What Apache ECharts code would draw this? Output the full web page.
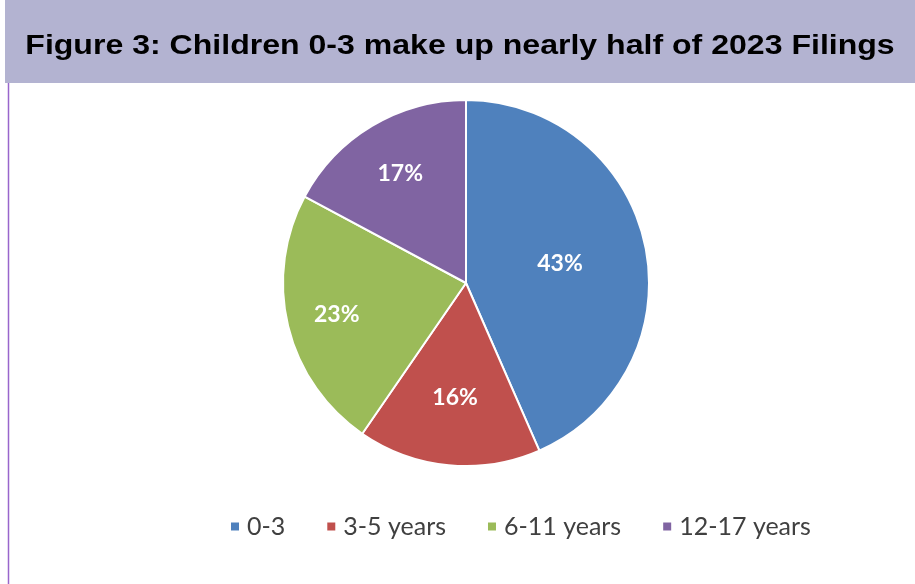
<!DOCTYPE html>
<html>
<head>
<meta charset="utf-8">
<script src="https://cdn.jsdelivr.net/npm/echarts@6/dist/echarts.min.js"></script>
<style>
  html, body { margin: 0; padding: 0; background: #fff; }
  #chart { width: 915px; height: 584px; }
</style>
</head>
<body>
<div id="chart"></div>
<script>
const titleText = 'Figure 3: Children 0-3 make up nearly half of 2023 Filings'
const categories = ['0-3', '3-5 years', '6-11 years', '12-17 years']
const shares = [43, 16, 23, 17]
const colors = ['#4f81bd', '#c0504d', '#9bbb59', '#8064a2']

// label distance from centre, Excel places them a bit unevenly
const labelDist = [93, 112, 130, 125]

const myChart = echarts.init(document.getElementById('chart'))

const R = 183
const total = shares.reduce((a, b) => a + b, 0)
let acc = 0
const pieData = categories.map((name, i) => {
  const mid = (acc + shares[i] / 2) / total * Math.PI * 2
  acc += shares[i]
  const extra = labelDist[i] - R / 2
  return {
    name: name,
    value: shares[i],
    itemStyle: { color: colors[i] },
    label: { offset: [Math.sin(mid) * extra, -Math.cos(mid) * extra] }
  }
})

const options = {
  animation: false,
  graphic: [
    {
      type: 'rect',
      shape: { x: 5, y: 0, width: 910, height: 83 },
      style: { fill: '#b3b3d1' }
    },
    {
      type: 'text',
      x: 460,
      y: 46,
      scaleX: 1.145,
      style: {
        text: titleText,
        fill: '#000',
        font: 'bold 28px "Liberation Sans", Arial',
        textAlign: 'center',
        textVerticalAlign: 'middle'
      }
    },
    {
      type: 'line',
      shape: { x1: 8.5, y1: 83, x2: 8.5, y2: 584 },
      style: { stroke: '#9966cc', lineWidth: 1.5 }
    }
  ],
  legend: {
    data: categories,
    left: 224,
    top: 509,
    icon: 'rect',
    itemWidth: 10,
    itemHeight: 10,
    itemGap: 40,
    textStyle: { fontFamily: 'Lato', fontSize: 25, color: '#404040', padding: [0, 0, 0, 2] }
  },
  series: [
    {
      type: 'pie',
      center: [466, 283],
      radius: [0, R],
      startAngle: 90,
      clockwise: true,
      silent: true,
      itemStyle: { borderColor: '#fff', borderWidth: 2 },
      label: {
        position: 'inside',
        formatter: '{c}%',
        color: '#fff',
        fontFamily: 'Lato',
        fontWeight: 'bold',
        fontSize: 23
      },
      labelLine: { show: false },
      data: pieData
    }
  ]
}

myChart.setOption(options)
</script>
</body>
</html>
